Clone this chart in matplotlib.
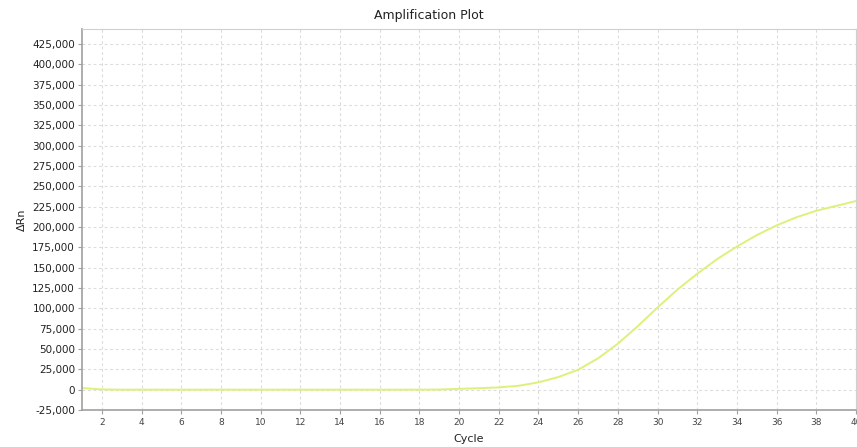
import matplotlib
matplotlib.use("Agg")
import matplotlib.pyplot as plt
from matplotlib.ticker import FuncFormatter, MultipleLocator

cycles = list(range(1, 41))
delta_rn = [2000, 300, 0, 0, 0, 0, 0, 0, 0, 0,
            0, 0, 0, 0, 0, 0, 0, 0, 200, 1000,
            1800, 2800, 4800, 9000, 15500, 24500, 38500, 56500, 78000, 101000,
            123000, 142500, 160500, 176000, 190000, 202000, 212000, 220000, 226000, 232000]

x_ticks = list(range(2, 41, 2))
title = "Amplification Plot"
x_label = "Cycle"
y_label = "ΔRn"

plt.rcParams['font.family'] = ['DejaVu Sans']
fig = plt.figure(figsize=(8.57, 4.47), dpi=100)
ax = fig.add_axes([82/857, 37/447, (856-82)/857, (410-29)/447])

ax.plot(cycles, delta_rn, color="#dff07a", linewidth=1.4)

ax.set_xlim(1, 40)
ax.set_ylim(-25000, 443500)
ax.set_xticks(x_ticks)
ax.yaxis.set_major_locator(MultipleLocator(25000))
ax.yaxis.set_major_formatter(FuncFormatter(lambda v, p: f"{int(round(v)):,}"))

ax.grid(True, color="#dcdcdc", linestyle=(0, (2.5, 2.5)), linewidth=0.8)
ax.set_axisbelow(True)

for s in ["top", "right"]:
    ax.spines[s].set_color("#d0d0d0")
    ax.spines[s].set_linewidth(0.8)
for s in ["left", "bottom"]:
    ax.spines[s].set_color("#a0a0a0")
    ax.spines[s].set_linewidth(1.2)

ax.tick_params(axis="y", labelsize=7.5, colors="#a0a0a0", labelcolor="#222222", length=3, pad=2)
ax.tick_params(axis="x", labelsize=6.5, colors="#a0a0a0", labelcolor="#444444", length=3, pad=3)

fig.text(0.5, 1 - 15/447, title, fontsize=9, color="#222222", ha="center", va="center")
ax.set_xlabel(x_label, fontsize=8, color="#222222", labelpad=5)
ax.set_ylabel(y_label, fontsize=8, color="#222222", labelpad=4)

fig.savefig("out.png", dpi=100)
